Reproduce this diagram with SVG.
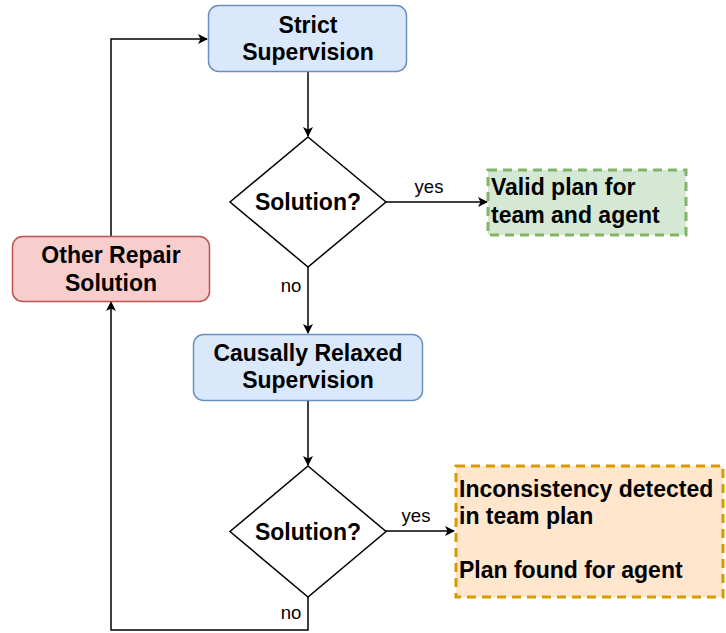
<svg xmlns="http://www.w3.org/2000/svg" width="726" height="633" viewBox="0 0 726 633">
<style>
.t{font-family:"Liberation Sans",Arial,sans-serif;font-weight:bold;font-size:23px;fill:#000}
.l{font-family:"Liberation Sans",Arial,sans-serif;font-size:18.5px;fill:#000}
.e{fill:none;stroke:#000;stroke-width:1.5}
</style>
<defs>
<marker id="a" viewBox="0 0 10 10" refX="9" refY="5" markerWidth="10" markerHeight="10" markerUnits="userSpaceOnUse" orient="auto">
<path d="M0,0 L10,5 L0,10 L2.5,5 Z" fill="#000"/>
</marker>
</defs>
<rect width="726" height="633" fill="#fff"/>
<g id="connectors">
<path class="e" d="M308,72 V136" marker-end="url(#a)"/>
<path class="e" d="M386,202 H487" marker-end="url(#a)"/>
<path class="e" d="M308,267 V333" marker-end="url(#a)"/>
<path class="e" d="M308,401 V465" marker-end="url(#a)"/>
<path class="e" d="M386,531 H454" marker-end="url(#a)"/>
<path class="e" d="M308,597 V630 H111 V302" marker-end="url(#a)"/>
<path class="e" d="M111,236 V39 H207" marker-end="url(#a)"/>
<text class="l" x="429" y="193" text-anchor="middle">yes</text>
<text class="l" x="291" y="292" text-anchor="middle">no</text>
<text class="l" x="416" y="522" text-anchor="middle">yes</text>
<text class="l" x="291" y="619" text-anchor="middle">no</text>
</g>
<g id="strict">
<rect x="208.5" y="5.5" width="198" height="66" rx="10" fill="#dae8fc" stroke="#6c8ebf" stroke-width="1.5"/>
<text class="t" x="308" y="33" text-anchor="middle">Strict</text>
<text class="t" x="308" y="60" text-anchor="middle">Supervision</text>
</g>
<g id="decision1">
<path d="M308,137 L386,202 L308,267 L230,202 Z" fill="#fff" stroke="#000" stroke-width="1.5"/>
<text class="t" x="308" y="210" text-anchor="middle">Solution?</text>
</g>
<g id="valid">
<rect x="488" y="170" width="198" height="65" fill="#d5e8d4" stroke="#82b366" stroke-width="3" stroke-dasharray="9,6"/>
<text class="t" x="491" y="195">Valid plan for</text>
<text class="t" x="491" y="223">team and agent</text>
</g>
<g id="causal">
<rect x="193.5" y="334.5" width="229" height="66" rx="10" fill="#dae8fc" stroke="#6c8ebf" stroke-width="1.5"/>
<text class="t" x="308" y="361" text-anchor="middle">Causally Relaxed</text>
<text class="t" x="308" y="388" text-anchor="middle">Supervision</text>
</g>
<g id="decision2">
<path d="M308,466 L386,531.5 L308,597 L230,531.5 Z" fill="#fff" stroke="#000" stroke-width="1.5"/>
<text class="t" x="308" y="540" text-anchor="middle">Solution?</text>
</g>
<g id="inconsistency">
<rect x="456" y="466" width="267" height="131" fill="#ffe6cc" stroke="#d79b00" stroke-width="3" stroke-dasharray="9,6"/>
<text class="t" x="459" y="497">Inconsistency detected</text>
<text class="t" x="459" y="524">in team plan</text>
<text class="t" x="459" y="578">Plan found for agent</text>
</g>
<g id="repair">
<rect x="12.5" y="236.5" width="197" height="65" rx="10" fill="#f8cecc" stroke="#b85450" stroke-width="1.5"/>
<text class="t" x="111" y="263" text-anchor="middle">Other Repair</text>
<text class="t" x="111" y="291" text-anchor="middle">Solution</text>
</g>
</svg>
